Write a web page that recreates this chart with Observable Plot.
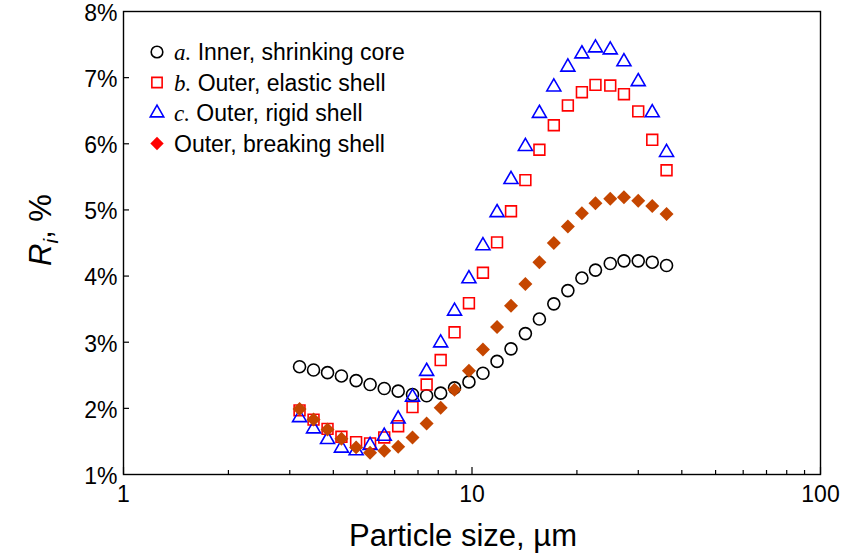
<!DOCTYPE html>
<html><head><meta charset="utf-8">
<script src="https://cdn.jsdelivr.net/npm/d3@7"></script>
<script src="https://cdn.jsdelivr.net/npm/@observablehq/plot@0.6"></script>
<style>
body{margin:0;background:#fff;}
#chart{position:relative;width:843px;height:554px;}
</style></head><body><div id="chart"></div>
<script>
// Particle size (µm), log-spaced bins
const sizes = [3.2, 3.51, 3.85, 4.22, 4.65, 5.1, 5.6, 6.14, 6.75, 7.41, 8.13, 8.91, 9.8, 10.75, 11.8, 12.94, 14.23, 15.61, 17.17, 18.84, 20.67, 22.61, 24.93, 27.29, 29.99, 32.9, 36.16];
// R_i, %
const innerShrinkingCore = [2.63, 2.58, 2.54, 2.49, 2.42, 2.36, 2.30, 2.26, 2.21, 2.19, 2.23, 2.31, 2.40, 2.53, 2.71, 2.90, 3.13, 3.35, 3.58, 3.78, 3.97, 4.09, 4.19, 4.23, 4.23, 4.21, 4.16];
const outerElasticShell = [1.97, 1.83, 1.69, 1.57, 1.49, 1.47, 1.56, 1.73, 2.02, 2.36, 2.73, 3.15, 3.59, 4.05, 4.51, 4.98, 5.45, 5.91, 6.28, 6.58, 6.78, 6.89, 6.88, 6.75, 6.49, 6.06, 5.60];
const outerRigidShell = [1.86, 1.69, 1.53, 1.40, 1.36, 1.44, 1.58, 1.84, 2.17, 2.56, 2.99, 3.47, 3.96, 4.46, 4.96, 5.46, 5.96, 6.46, 6.86, 7.16, 7.36, 7.45, 7.42, 7.24, 6.94, 6.47, 5.87];
const outerBreakingShell = [1.99, 1.83, 1.68, 1.54, 1.41, 1.33, 1.36, 1.42, 1.56, 1.77, 2.01, 2.28, 2.57, 2.89, 3.23, 3.55, 3.88, 4.21, 4.50, 4.75, 4.95, 5.10, 5.17, 5.19, 5.14, 5.06, 4.94];

const yTicks = [1, 2, 3, 4, 5, 6, 7, 8];
const yInnerTicks = [2, 3, 4, 5, 6, 7];
const xMajorTicks = [1, 10, 100];
const xMinorTicks = [2, 3, 4, 5, 6, 7, 8, 9, 20, 30, 40, 50, 60, 70, 80, 90];

const legendItems = [
  {tag: "a.", label: " Inner, shrinking core", symbol: "circle"},
  {tag: "b.", label: " Outer, elastic shell", symbol: "square"},
  {tag: "c.", label: " Outer, rigid shell", symbol: "triangle"},
  {tag: "", label: "Outer, breaking shell", symbol: "diamond"}
];

const rows = arr => sizes.map((x, i) => ({x, y: arr[i]}));
const FONT = "'Liberation Sans', Arial, Helvetica, sans-serif";

const svg = Plot.plot({
  width: 843, height: 554,
  marginLeft: 123, marginRight: 23, marginTop: 11, marginBottom: 80,
  style: {fontFamily: FONT, fontSize: "23px", color: "#000", background: "#fff", overflow: "visible"},
  x: {type: "log", domain: [1, 100], label: null},
  y: {domain: [1, 8], label: null},
  marks: [
    Plot.axisY(yTicks, {anchor: "left", tickSize: 0, tickPadding: 6, dy: 2, tickFormat: d => d + "%", label: null, fontSize: 23}),
    Plot.axisY(yInnerTicks, {anchor: "left", tickSize: 6, dx: 6, fill: "none", label: null, strokeWidth: 1.2}),
    Plot.axisX(xMajorTicks, {anchor: "bottom", tickSize: 0, tickPadding: 11, tickFormat: d => String(d), label: null, fontSize: 23}),
    Plot.axisX(xMajorTicks, {anchor: "bottom", tickSize: 7, dy: -7, fill: "none", label: null, strokeWidth: 1.2}),
    Plot.axisX(xMinorTicks, {anchor: "bottom", tickSize: 4, dy: -4, fill: "none", label: null, strokeWidth: 1.2}),
    Plot.frame({stroke: "#000", strokeWidth: 1.4}),
    Plot.dot(rows(innerShrinkingCore), {x: "x", y: "y", symbol: "circle", r: 6, stroke: "#000", strokeWidth: 1.6, fill: "none"}),
    Plot.dot(rows(outerElasticShell), {x: "x", y: "y", symbol: "square", r: 6.1, stroke: "#ff0000", strokeWidth: 1.6, fill: "none"}),
    Plot.dot(rows(outerRigidShell), {x: "x", y: "y", symbol: "triangle", r: 5.2, stroke: "#0000ff", strokeWidth: 1.6, fill: "none"}),
    Plot.dot(rows(outerBreakingShell), {x: "x", y: "y", symbol: "diamond2", r: 6.3, fill: "#c54600", stroke: "none"})
  ]
});
document.getElementById("chart").appendChild(svg);

const s = d3.select(svg);
// y-axis title
const yl = s.append("text")
  .attr("transform", "translate(51,230) rotate(-90)")
  .attr("text-anchor", "middle")
  .attr("font-family", FONT).attr("font-size", 31).attr("fill", "#000");
yl.append("tspan").attr("font-style", "italic").text("R");
yl.append("tspan").attr("font-style", "italic").attr("font-size", 21).attr("dy", 7).text("i");
yl.append("tspan").attr("dy", -7).text(", %");
// x-axis title
s.append("text").attr("x", 463).attr("y", 546)
  .attr("text-anchor", "middle")
  .attr("font-family", FONT).attr("font-size", 31).attr("fill", "#000")
  .text("Particle size, µm");

// legend
const symType = {circle: d3.symbolCircle, square: d3.symbolSquare, triangle: d3.symbolTriangle, diamond: d3.symbolDiamond2};
const symStyle = {
  circle: {fill: "none", stroke: "#000", size: Math.PI * 5.8 * 5.8},
  square: {fill: "none", stroke: "#ff0000", size: Math.PI * 5.8 * 5.8},
  triangle: {fill: "none", stroke: "#0000ff", size: Math.PI * 5 * 5},
  diamond: {fill: "#ff0000", stroke: "none", size: Math.PI * 6 * 6}
};
const lg = s.append("g").attr("text-anchor", "start");
const rowY = [52, 82.5, 113, 143.5];
legendItems.forEach((it, i) => {
  const st = symStyle[it.symbol];
  lg.append("path")
    .attr("transform", `translate(157,${rowY[i]})`)
    .attr("d", d3.symbol(symType[it.symbol], st.size)())
    .attr("fill", st.fill).attr("stroke", st.stroke).attr("stroke-width", 1.6);
  const t = lg.append("text").attr("x", 174).attr("y", rowY[i]).attr("dy", "0.36em")
    .attr("text-anchor", "start")
    .attr("font-family", FONT).attr("font-size", 23).attr("fill", "#000");
  if (it.tag) t.append("tspan").attr("font-family", "'Liberation Serif', 'Times New Roman', serif").attr("font-style", "italic").text(it.tag);
  t.append("tspan").text(it.label);
});
</script></body></html>
